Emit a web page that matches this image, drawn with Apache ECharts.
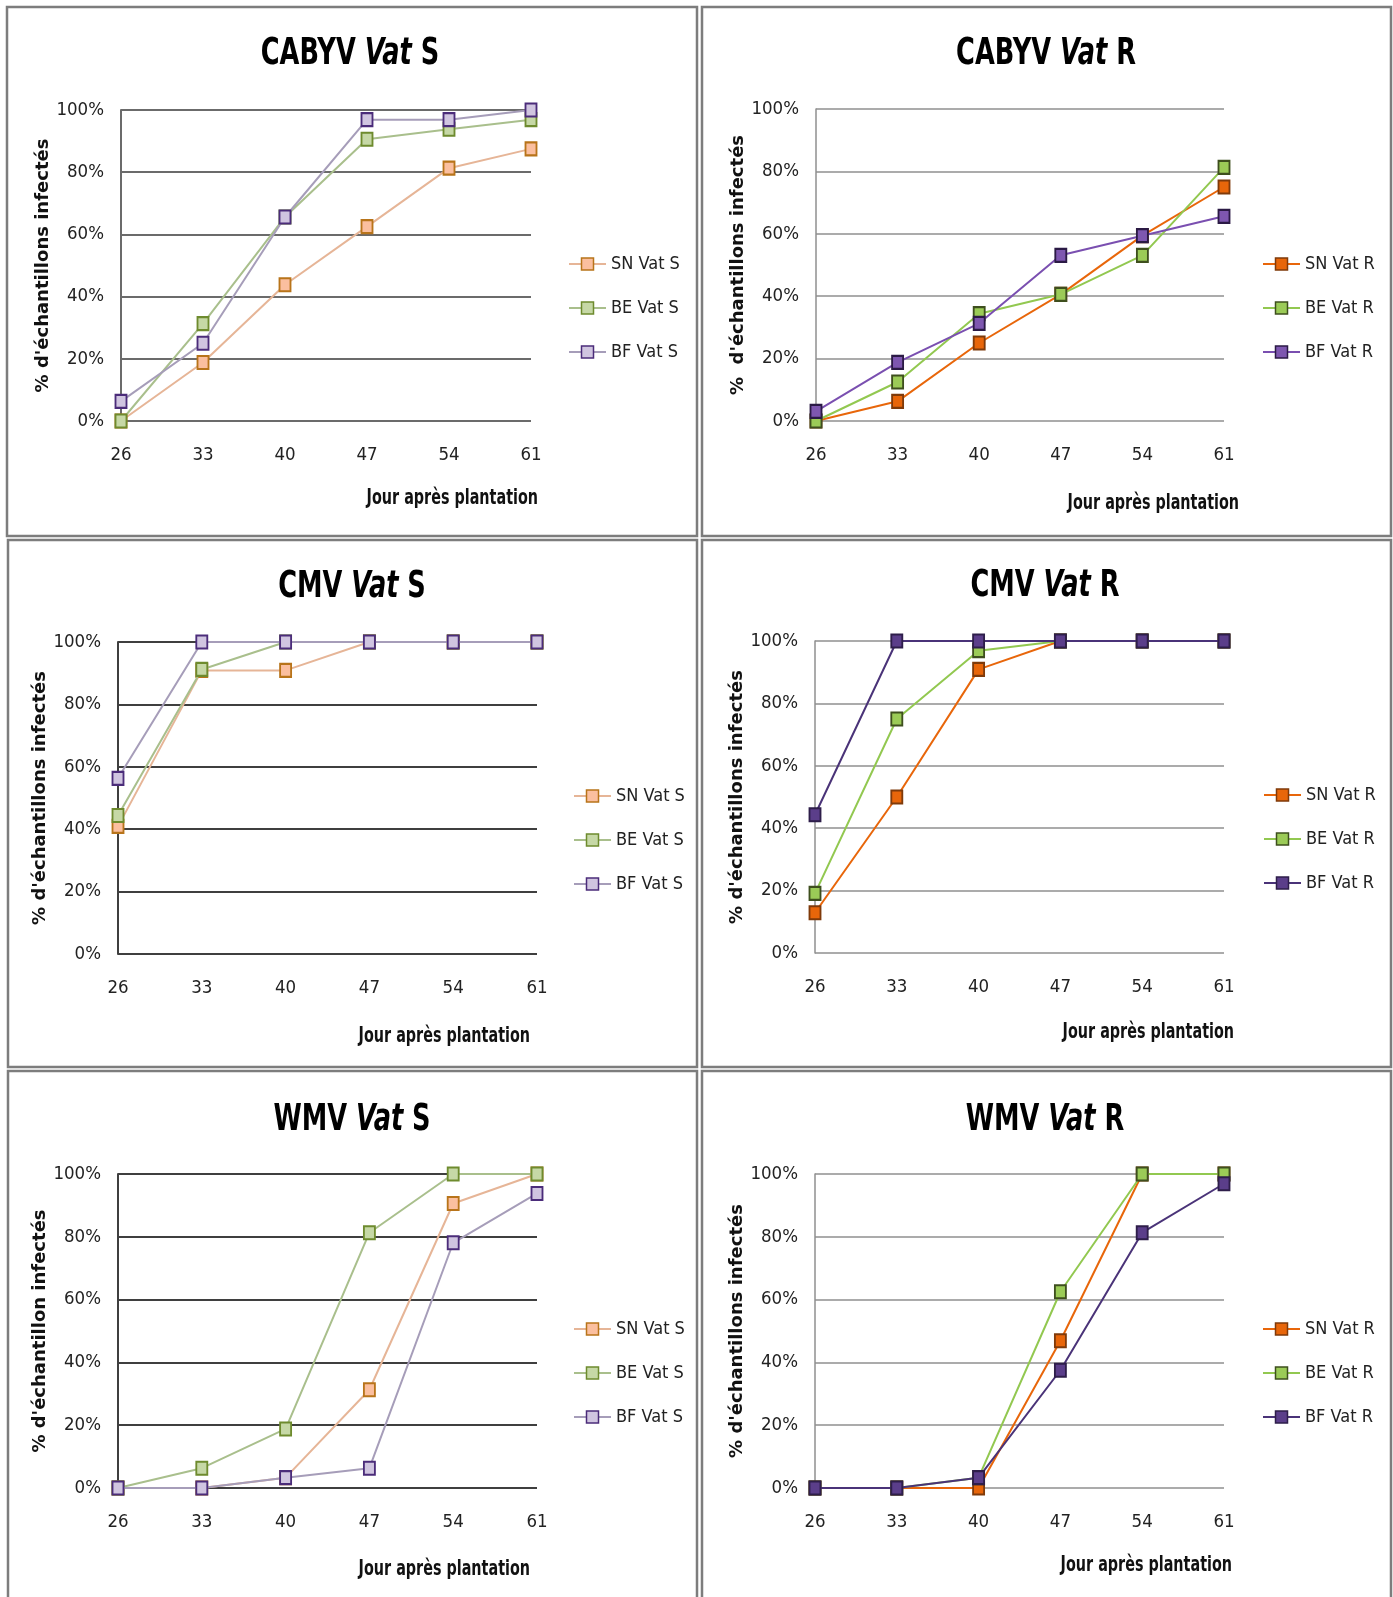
<!DOCTYPE html>
<html><head><meta charset="utf-8">
<script src="https://cdn.jsdelivr.net/npm/echarts@6/dist/echarts.min.js"></script>
<style>html,body{margin:0;padding:0;background:#fff}#c{width:1393px;height:1597px}</style>
</head><body><div id="c"></div>
<script>
// ---------- data ----------
const days = ['26', '33', '40', '47', '54', '61'];
const yTicks = { min: 0, max: 100, step: 20, suffix: '%' };
const namesS = ['SN Vat S', 'BE Vat S', 'BF Vat S'];
const namesR = ['SN Vat R', 'BE Vat R', 'BF Vat R'];
const xAxisTitle = 'Jour après plantation';
const yAxisTitles = [
  "% d'échantillons infectés", "%  d'échantillons infectés",
  "% d'échantillons infectés", "% d'échantillons infectés",
  "% d'échantillon infectés", "% d'échantillons infectés"
];
const panelVirus = ['CABYV', 'CABYV', 'CMV', 'CMV', 'WMV', 'WMV'];
const panelVat = ['S', 'R', 'S', 'R', 'S', 'R'];

const cabyvS_SN = [0, 18.8, 43.8, 62.5, 81.3, 87.5];
const cabyvS_BE = [0, 31.3, 65.6, 90.6, 93.8, 96.9];
const cabyvS_BF = [6.3, 25, 65.6, 96.9, 96.9, 100];
const cabyvR_SN = [0, 6.3, 25, 40.6, 59.4, 75];
const cabyvR_BE = [0, 12.5, 34.4, 40.6, 53.1, 81.3];
const cabyvR_BF = [3.1, 18.8, 31.3, 53.1, 59.4, 65.6];
const cmvS_SN = [40.9, 90.9, 90.9, 100, 100, 100];
const cmvS_BE = [44.4, 91.2, 100, 100, 100, 100];
const cmvS_BF = [56.3, 100, 100, 100, 100, 100];
const cmvR_SN = [12.9, 50, 90.9, 100, 100, 100];
const cmvR_BE = [19.1, 75, 96.9, 100, 100, 100];
const cmvR_BF = [44.3, 100, 100, 100, 100, 100];
const wmvS_SN = [0, 0, 3.3, 31.3, 90.6, 100];
const wmvS_BE = [0, 6.3, 18.8, 81.3, 100, 100];
const wmvS_BF = [0, 0, 3.3, 6.3, 78.1, 93.8];
const wmvR_SN = [0, 0, 0, 46.9, 100, 100];
const wmvR_BE = [0, 0, 3.3, 62.5, 100, 100];
const wmvR_BF = [0, 0, 3.3, 37.5, 81.3, 96.9];

const panelData = [
  [cabyvS_SN, cabyvS_BE, cabyvS_BF],
  [cabyvR_SN, cabyvR_BE, cabyvR_BF],
  [cmvS_SN, cmvS_BE, cmvS_BF],
  [cmvR_SN, cmvR_BE, cmvR_BF],
  [wmvS_SN, wmvS_BE, wmvS_BF],
  [wmvR_SN, wmvR_BE, wmvR_BF]
];

// ---------- styles ----------
const COND = "'DejaVu Sans Condensed', 'Liberation Sans', sans-serif";
const WIDE = "'DejaVu Sans', Verdana, sans-serif";

const styleS = [
  { line: '#E6B597', fill: '#FBBF9F', border: '#B8741A' },
  { line: '#A9BF8C', fill: '#C6D8A6', border: '#6E8B2E' },
  { line: '#A69DB9', fill: '#D0C5E0', border: '#4B2C7A' }
];
const styleR1 = [
  { line: '#E8660A', fill: '#E8660A', border: '#7F3A0A' },
  { line: '#92C850', fill: '#9BCB57', border: '#3E4F1E' },
  { line: '#7A4FB0', fill: '#7E57B0', border: '#2B1A45' }
];
const styleR2 = [
  { line: '#E8660A', fill: '#E8660A', border: '#7F3A0A' },
  { line: '#92C850', fill: '#9BCB57', border: '#3E4F1E' },
  { line: '#4A3378', fill: '#5B3E8A', border: '#2E1E4A' }
];
const panelStyles = [styleS, styleR1, styleS, styleR2, styleS, styleR2];
const gridLineStyle = [
  { color: '#6b6b6b', width: 2 },
  { color: '#8f8f8f', width: 1.5 },
  { color: '#3f3f3f', width: 2 },
  { color: '#8f8f8f', width: 1.5 },
  { color: '#3f3f3f', width: 2 },
  { color: '#8f8f8f', width: 1.5 }
];

// ---------- layout (pixels) ----------
const layout = [
  { box: [7, 7, 697, 536], grid: [121, 110, 410, 311], title: [350, 54], xname: [538, 499], legend: [568, 255], gap: 61 },
  { box: [702, 7, 1391, 536], grid: [816, 109, 408, 312], title: [1046, 54], xname: [1239, 504], legend: [1262, 255], gap: 61 },
  { box: [8, 540, 697, 1067], grid: [118, 642, 419, 312], title: [352, 587], xname: [530, 1037], legend: [573, 787], gap: 58 },
  { box: [702, 540, 1391, 1067], grid: [815, 641, 409, 312], title: [1045, 586], xname: [1234, 1033], legend: [1263, 786], gap: 61 },
  { box: [8, 1071, 697, 1610], grid: [118, 1174, 419, 314], title: [352, 1120], xname: [530, 1570], legend: [573, 1320], gap: 58 },
  { box: [702, 1071, 1391, 1610], grid: [815, 1174, 409, 314], title: [1045, 1120], xname: [1232, 1566], legend: [1262, 1320], gap: 61 }
];

const option = {
  animation: false,
  backgroundColor: '#ffffff',
  grid: [], xAxis: [], yAxis: [], legend: [], series: [],
  graphic: []
};

layout.forEach((L, p) => {
  const names = panelVat[p] === 'S' ? namesS : namesR;
  const st = panelStyles[p];
  const gl = gridLineStyle[p];
  option.graphic.push({
    type: 'rect', z: 0, silent: true,
    shape: { x: L.box[0], y: L.box[1], width: L.box[2] - L.box[0], height: L.box[3] - L.box[1] },
    style: { fill: 'none', stroke: '#7d7d7d', lineWidth: 2.5 }
  });
  option.graphic.push({
    type: 'text', silent: true, x: L.title[0], y: L.title[1], scaleX: 0.75, z: 10,
    style: {
      text: '{b|' + panelVirus[p] + ' }{i|Vat}{b| ' + panelVat[p] + '}',
      align: 'center', verticalAlign: 'middle',
      rich: {
        b: { fontFamily: COND, fontWeight: 'bold', fontSize: 38, fill: '#000' },
        i: { fontFamily: COND, fontWeight: 'bold', fontStyle: 'italic', fontSize: 38, fill: '#000' }
      }
    }
  });
  option.graphic.push({
    type: 'text', silent: true, x: L.xname[0], y: L.xname[1], scaleX: 0.76, z: 10,
    style: {
      text: xAxisTitle, align: 'right', verticalAlign: 'middle',
      fontFamily: COND, fontWeight: 'bold', fontSize: 21, fill: '#111'
    }
  });
  option.grid.push({ left: L.grid[0], top: L.grid[1], width: L.grid[2], height: L.grid[3], containLabel: false, outerBoundsMode: 'none' });
  option.xAxis.push({
    type: 'category', gridIndex: p, data: days, boundaryGap: false,
    axisLine: { show: false }, axisTick: { show: false },
    axisLabel: { margin: 25, fontFamily: COND, fontSize: 18.5, color: '#222' },
    splitLine: { show: false }
  });
  option.yAxis.push({
    type: 'value', gridIndex: p, min: yTicks.min, max: yTicks.max, interval: yTicks.step,
    name: yAxisTitles[p], nameLocation: 'middle', nameGap: L.gap, nameRotate: 90,
    nameTextStyle: { fontFamily: WIDE, fontWeight: 'bold', fontSize: 18, color: '#111' },
    axisLine: { show: true, lineStyle: { color: gl.color, width: gl.width } },
    axisTick: { show: false },
    axisLabel: { margin: 17, fontFamily: COND, fontSize: 18.5, color: '#222', formatter: '{value}' + yTicks.suffix },
    splitLine: { show: true, lineStyle: { color: gl.color, width: gl.width } }
  });
  option.legend.push({
    orient: 'vertical', left: L.legend[0], top: L.legend[1], padding: 0,
    itemWidth: 37, itemHeight: 15, itemGap: 26,
    textStyle: { fontFamily: COND, fontSize: 18, color: '#222' },
    selectedMode: false,
    data: names.map((n, k) => ({
      name: n,
      itemStyle: { color: st[k].fill, borderColor: st[k].border, borderWidth: 1.5 },
      lineStyle: { color: st[k].line, width: 2 }
    }))
  });
  panelData[p].forEach((vals, k) => {
    option.series.push({
      type: 'line', name: names[k], xAxisIndex: p, yAxisIndex: p,
      data: vals, symbol: 'rect', symbolSize: [11, 13], showSymbol: true,
      lineStyle: { color: st[k].line, width: 2 },
      itemStyle: { color: st[k].fill, borderColor: st[k].border, borderWidth: 2 },
      emphasis: { disabled: true }, z: 3 + k
    });
  });
});

const chart = echarts.init(document.getElementById('c'), null, { renderer: 'canvas' });
chart.setOption(option);
</script></body></html>
